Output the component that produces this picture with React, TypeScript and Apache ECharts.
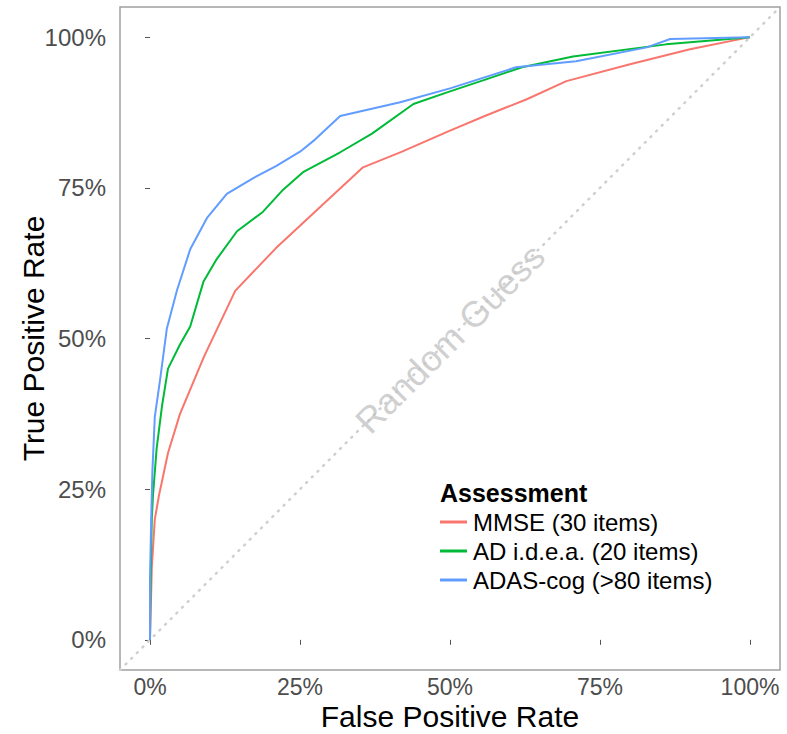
import React, { useEffect, useRef } from "react";
import * as echarts from "echarts";

const seriesNames = ["MMSE (30 items)", "AD i.d.e.a. (20 items)", "ADAS-cog (>80 items)"];
const seriesColors = ["#F8766D", "#00BA38", "#619CFF"];

// [false positive rate, true positive rate]
const mmse: [number, number][] = [
  [0, 0], [0.003, 0.12], [0.008, 0.2], [0.015, 0.24], [0.03, 0.31], [0.05, 0.375],
  [0.09, 0.47], [0.142, 0.579], [0.21, 0.65], [0.28, 0.715], [0.355, 0.784],
  [0.42, 0.81], [0.5, 0.845], [0.56, 0.87], [0.628, 0.897], [0.694, 0.927],
  [0.8, 0.955], [0.9, 0.98], [1, 1],
];
const adidea: [number, number][] = [
  [0, 0], [0.001, 0.1], [0.003, 0.2], [0.005, 0.24], [0.011, 0.317], [0.02, 0.388],
  [0.03, 0.45], [0.05, 0.49], [0.067, 0.52], [0.089, 0.594], [0.11, 0.63],
  [0.145, 0.678], [0.188, 0.71], [0.22, 0.745], [0.255, 0.776], [0.317, 0.809],
  [0.37, 0.84], [0.439, 0.889], [0.5, 0.91], [0.56, 0.93], [0.62, 0.95],
  [0.705, 0.968], [0.86, 0.988], [1, 1],
];
const adascog: [number, number][] = [
  [0, 0], [0, 0.1], [0.002, 0.2], [0.004, 0.28], [0.008, 0.37], [0.017, 0.433],
  [0.028, 0.516], [0.045, 0.58], [0.067, 0.648], [0.095, 0.7], [0.128, 0.74],
  [0.17, 0.765], [0.21, 0.786], [0.25, 0.81], [0.275, 0.83], [0.317, 0.869],
  [0.417, 0.892], [0.5, 0.915], [0.61, 0.95], [0.71, 0.96], [0.828, 0.983],
  [0.867, 0.997], [1, 1],
];
const diagonal: [number, number][] = [[-0.05, -0.05], [1.05, 1.05]];
const tickValues = [0, 0.25, 0.5, 0.75, 1];
const guessLabel: [number, number][] = [[0.5, 0.5]];

const FONT = "Liberation Sans, Arial, sans-serif";

export default function App() {
  const ref = useRef<HTMLDivElement>(null);
  useEffect(() => {
    if (!ref.current) return;
    const chart = echarts.init(ref.current, null, { renderer: "svg" });
    const pct = (v: number) => `${Math.round(v * 100)}%`;
    const axisCommon = {
      type: "value",
      min: -0.05,
      max: 1.05,
      axisLine: { show: false },
      splitLine: { show: false },
      axisTick: { show: true, customValues: tickValues, length: 5, lineStyle: { color: "#555", width: 1 } },
      axisLabel: {
        customValues: tickValues,
        formatter: pct,
        fontSize: 24,
        lineHeight: 24,
        color: "#4d4d4d",
        fontFamily: FONT,
      },
      nameLocation: "middle",
      nameMoveOverlap: false,
      nameTextStyle: { fontSize: 30, lineHeight: 28, color: "#000", fontFamily: FONT },
    };
    const curves = [mmse, adidea, adascog];
    chart.setOption({
      animation: false,
      backgroundColor: "#fff",
      textStyle: { fontFamily: FONT },
      grid: {
        left: 120, right: 7, top: 7, bottom: 64,
        outerBoundsMode: "none",
        containLabel: false,
        show: true, borderColor: "#a0a0a0", borderWidth: 1.5, backgroundColor: "#fff",
      },
      xAxis: {
        ...axisCommon,
        name: "False Positive Rate",
        nameGap: 32,
        axisLabel: { ...axisCommon.axisLabel, fontSize: 23, lineHeight: 23, margin: 5 },
      },
      yAxis: { ...axisCommon, name: "True Positive Rate", nameGap: 73, axisLabel: { ...axisCommon.axisLabel, margin: 14 } },
      legend: {
        data: seriesNames,
        orient: "vertical",
        left: 440,
        top: 510,
        padding: 0,
        icon: "rect",
        itemWidth: 27,
        itemHeight: 3,
        itemGap: 5,
        textStyle: { fontSize: 24, color: "#000", fontFamily: FONT, padding: [0, 0, 0, 1] },
        selectedMode: false,
      },
      graphic: [
        {
          type: "text",
          left: 440,
          top: 480,
          style: { text: "Assessment", fontSize: 25, fontWeight: "bold", fill: "#000", fontFamily: FONT },
        },
      ],
      series: [
        {
          type: "line",
          data: diagonal,
          symbol: "none",
          silent: true,
          lineStyle: { color: "#cfcfcf", width: 2.5, type: [1, 7], cap: "round" },
          z: 1,
        },
        {
          type: "scatter",
          data: guessLabel,
          symbolSize: 0,
          silent: true,
          label: {
            show: true,
            position: "inside",
            formatter: "Random Guess",
            rotate: 45,
            fontSize: 36,
            color: "#c4c4c4",
            fontFamily: FONT,
          },
          z: 2,
        },
        ...curves.map((d, i) => ({
          type: "line",
          name: seriesNames[i],
          data: d,
          symbol: "none",
          color: seriesColors[i],
          lineStyle: { color: seriesColors[i], width: 2 },
          z: 3,
        })),
      ],
    });
    return () => chart.dispose();
  }, []);
  return <div ref={ref} style={{ width: 787, height: 734, position: "absolute", left: 0, top: 0 }} />;
}
